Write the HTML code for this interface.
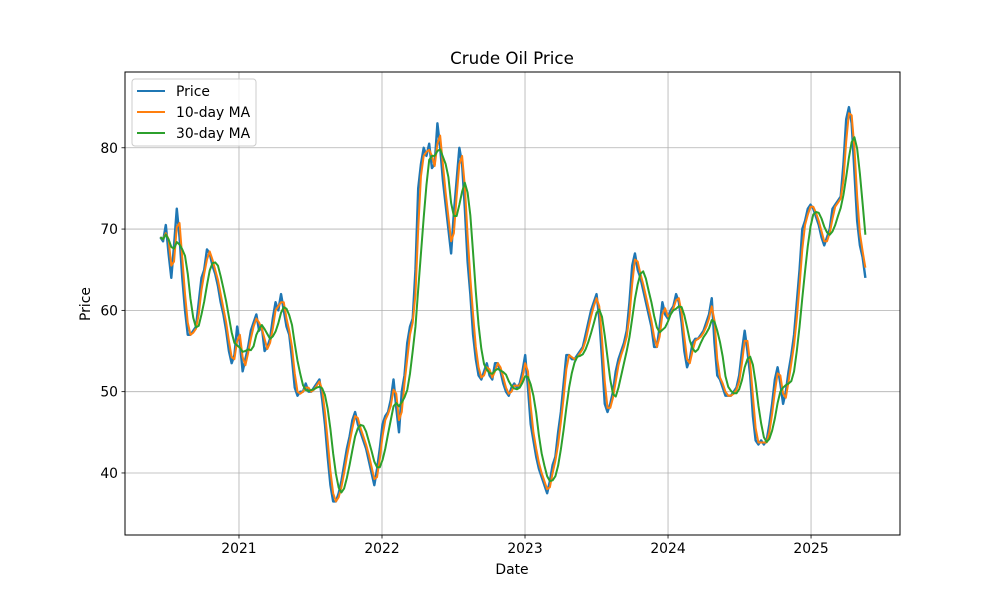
<!DOCTYPE html>
<html><head><meta charset="utf-8"><style>
body{margin:0;background:#fff;font-family:"Liberation Sans","DejaVu Sans",sans-serif}
svg text{font-family:"DejaVu Sans","Liberation Sans",sans-serif}
</style></head><body>
<svg id="chart" width="1000" height="600" viewBox="0 0 1000 600" xmlns="http://www.w3.org/2000/svg">
<rect width="1000" height="600" fill="#fff"/>
<g id="grid"></g>
<g id="series"></g>
<rect x="125" y="72" width="775" height="463" fill="none" stroke="#000" stroke-width="1"/>
<g id="axes"></g>
<text x="512" y="64" text-anchor="middle" font-size="16.7">Crude Oil Price</text>
<text x="512" y="574" text-anchor="middle" font-size="13.9">Date</text>
<text x="90" y="304" text-anchor="middle" font-size="13.9" transform="rotate(-90 90 304)">Price</text>
<g>
<rect x="132" y="79" width="124" height="67" rx="3" fill="#fff" fill-opacity="0.8" stroke="#ccc"/>
<g><line x1="137" y1="91" x2="165" y2="91" stroke="#1f77b4" stroke-width="2"/><text x="176" y="96" font-size="13.9">Price</text></g>
<g><line x1="137" y1="112" x2="165" y2="112" stroke="#ff7f0e" stroke-width="2"/><text x="176" y="117" font-size="13.9">10-day MA</text></g>
<g><line x1="137" y1="133" x2="165" y2="133" stroke="#2ca02c" stroke-width="2"/><text x="176" y="138" font-size="13.9">30-day MA</text></g>
</g>
</svg>
<script>
const startYear = 2020.45;
const endYear = 2025.38;
const prices = [69,68.5,70.5,67,64,68,72.5,69,64,60,57,57,57.5,58,61,64,65,67.5,67,65.5,64.5,63,61,59.5,57.5,55,53.5,54.5,58,56,52.5,54,55.5,57.5,58.5,59.5,57.5,58,55,55.5,56.5,59,61,60,62,60,58,57,54,50.5,49.5,50,50,51,50,50,50.5,51,51.5,49,46,42,38.5,36.5,36.5,37.5,39,41,43,44.5,46.5,47.5,46,45,44,43,41.5,40,38.5,40.5,43,46,47,47.5,49,51.5,48,45,50,52,56,58,59,65,75,78,80,79,80.5,77.5,78,83,80,76,73,70,67,72,76,80,78,72.5,66,62,57,54,52,51.5,52.5,53.5,52,51.5,53.5,53.5,52.5,51,50,49.5,50.5,51,50.5,51,52.5,54.5,50.5,46,44,42,40.5,39.5,38.5,37.5,39,41,42,45,47.5,51,54.5,54.5,54,54,54.5,55,55.5,57,58.5,60,61,62,59,54,48.5,47.5,48.5,50,52.5,54,55,56,57.5,61,65.5,67,65,64,62.5,61,59.5,58,55.5,55.5,58,61,59.5,59,60,60.5,62,61,58.5,55,53,54,56,56.5,56.5,57,57.5,58.5,59.5,61.5,56,52,51.5,50.5,49.5,49.5,49.5,50,50.5,52,55,57.5,55,52,47,44,43.5,44,43.5,44,46,48.5,51.5,53,51,48.5,50,52.5,54.5,57,61,65,70,71,72.5,73,72.5,71.5,70.5,69,68,69,70,72.5,73,73.5,74,78,83.5,85,83,77,71,68,66.5,64];
const xTicks = [2021,2022,2023,2024,2025];
const yTicks = [40,50,60,70,80];
const maShortWindow = 2;
const maLongWindow = 5;

const X0=125,X1=900,Y0=535,Y1=72;
const xMin=2020.203,xMax=2025.622,yMin=32.37,yMax=89.32;
function xs(t){return X0+(t-xMin)/(xMax-xMin)*(X1-X0);}
function ys(v){return Y0-(v-yMin)/(yMax-yMin)*(Y0-Y1);}
const NS="http://www.w3.org/2000/svg";
function mk(tag,attrs,parent){const e=document.createElementNS(NS,tag);for(const k in attrs)e.setAttribute(k,attrs[k]);parent.appendChild(e);return e;}
const n=prices.length;
const dates=prices.map((_,i)=>startYear+i*(endYear-startYear)/(n-1));
function ma(w){return prices.map((_,i)=>{const s=Math.max(0,i-w+1);let sum=0;for(let j=s;j<=i;j++)sum+=prices[j];return sum/(i-s+1);});}
const grid=document.getElementById('grid'),axes=document.getElementById('axes'),series=document.getElementById('series');
xTicks.forEach(t=>{const x=xs(t);
 const g=mk('line',{x1:x,x2:x,y1:Y1,y2:Y0,stroke:'#b0b0b0','stroke-width':0.8},grid);
 
 
 mk('line',{x1:x,x2:x,y1:Y0,y2:Y0+3.5,stroke:'#000','stroke-width':0.8},axes);
 const tx=mk('text',{x:x,y:Y0+18,'text-anchor':'middle','font-size':13.9},axes);tx.textContent=t;
 
 
});
yTicks.forEach(v=>{const y=ys(v);
 const g=mk('line',{x1:X0,x2:X1,y1:y,y2:y,stroke:'#b0b0b0','stroke-width':0.8},grid);
 
 
 mk('line',{x1:X0-3.5,x2:X0,y1:y,y2:y,stroke:'#000','stroke-width':0.8},axes);
 const tx=mk('text',{x:X0-7,y:y+5,'text-anchor':'end','font-size':13.9},axes);tx.textContent=v;
 
 
});
function line(vals,color,w,name){const d=vals.map((v,i)=>(i?'L':'M')+xs(dates[i]).toFixed(2)+','+ys(v).toFixed(2)).join('');
 const p=mk('path',{d:d,fill:'none',stroke:color,'stroke-width':w,'stroke-linejoin':'round'},series);
 
 }
line(prices,'#1f77b4',2.4,'price-line');
line(ma(maShortWindow),'#ff7f0e',2,'ma-10-day-line');
line(ma(maLongWindow),'#2ca02c',2,'ma-30-day-line');
</script>
</body></html>
